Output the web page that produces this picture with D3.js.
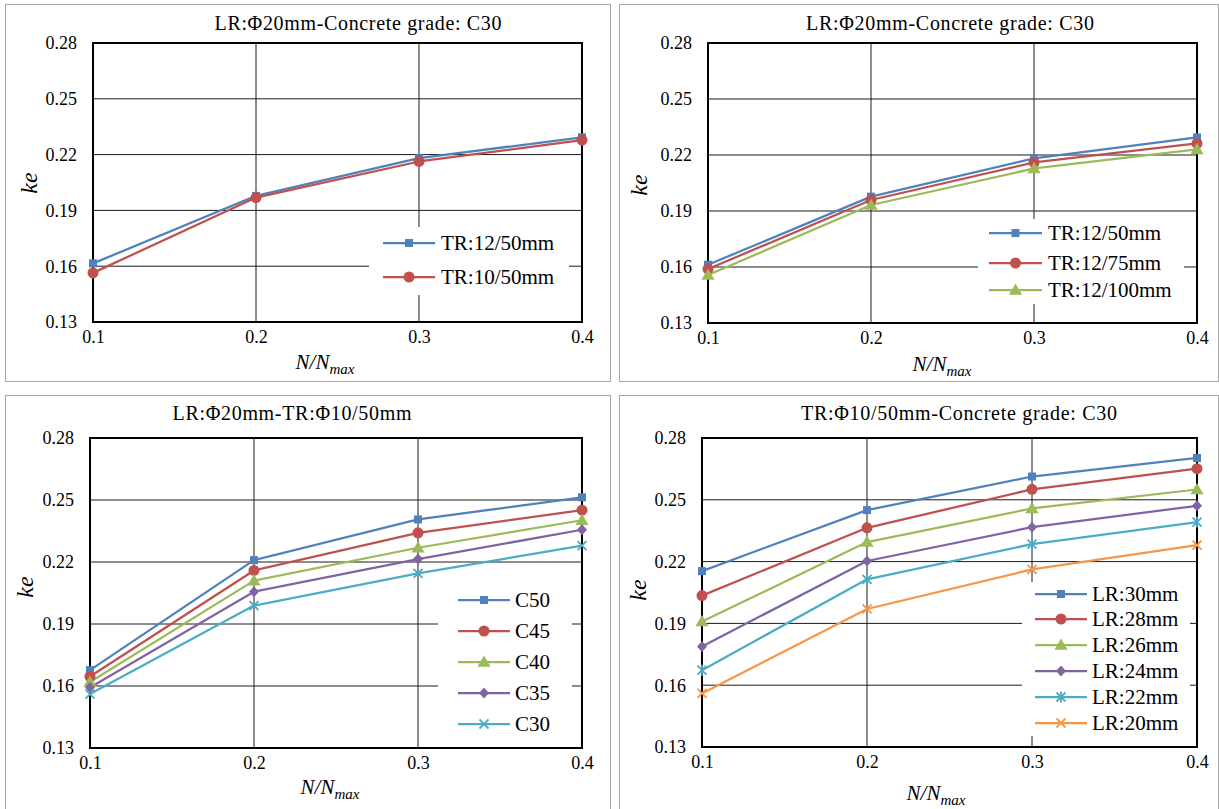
<!DOCTYPE html>
<html>
<head>
<meta charset="utf-8">
<script src="https://cdn.jsdelivr.net/npm/d3@7"></script>
</head>
<body style="margin:0">
<script>
// data
var xVals = [0.1, 0.2, 0.3, 0.4];
var xTickLabels = ["0.1", "0.2", "0.3", "0.4"];
var yTicks = [0.13, 0.16, 0.19, 0.22, 0.25, 0.28];

var p1Names = ["TR:12/50mm", "TR:10/50mm"];
var p1Values = [
  [0.1615, 0.1978, 0.2181, 0.2293],
  [0.1564, 0.1969, 0.2163, 0.2278]
];

var p2Names = ["TR:12/50mm", "TR:12/75mm", "TR:12/100mm"];
var p2Values = [
  [0.1612, 0.1977, 0.2182, 0.2294],
  [0.1589, 0.1959, 0.2160, 0.2262],
  [0.1557, 0.1932, 0.2128, 0.2230]
];

var p3Names = ["C50", "C45", "C40", "C35", "C30"];
var p3Values = [
  [0.1677, 0.2209, 0.2406, 0.2513],
  [0.1646, 0.2159, 0.2341, 0.2451],
  [0.1619, 0.2110, 0.2269, 0.2402],
  [0.1593, 0.2056, 0.2214, 0.2356],
  [0.1561, 0.1989, 0.2145, 0.2279]
];

var p4Names = ["LR:30mm", "LR:28mm", "LR:26mm", "LR:24mm", "LR:22mm", "LR:20mm"];
var p4Values = [
  [0.2154, 0.2450, 0.2613, 0.2703],
  [0.2035, 0.2364, 0.2551, 0.2651],
  [0.1909, 0.2295, 0.2458, 0.2550],
  [0.1788, 0.2203, 0.2367, 0.2471],
  [0.1673, 0.2114, 0.2285, 0.2392],
  [0.1560, 0.1970, 0.2162, 0.2280]
];

var colors = ["#4F81BD", "#C0504D", "#9BBB59", "#8064A2", "#4BACC6", "#F79646"];
var FONT = "Liberation Serif";
var K = 2; // text is set large and scaled down

// panel layout
var panels = [
  { title: "LR:Φ20mm-Concrete grade: C30", names: p1Names, values: p1Values,
    markers: ["square", "circle"],
    border: [5.5, 4.5, 610.5, 381.5], plot: [93, 43, 582, 322],
    titleX: 358, titleY: 30, titleW: 287, xLabelX: 325, xLabelY: 369, yLabelX: 29, yLabelY: 183,
    legBox: [369, 227, 569, 295], legRows: [243, 277], legLine: [383, 435], legText: 441 },
  { title: "LR:Φ20mm-Concrete grade: C30", names: p2Names, values: p2Values,
    markers: ["square", "circle", "triangle"],
    border: [619.5, 4.5, 1218.5, 381.5], plot: [708, 43, 1197, 323],
    titleX: 950, titleY: 30, titleW: 288, xLabelX: 942, xLabelY: 371, yLabelX: 639, yLabelY: 185,
    legBox: [978, 219, 1184, 304], legRows: [233, 263, 290], legLine: [989, 1042], legText: 1048 },
  { title: "LR:Φ20mm-TR:Φ10/50mm", names: p3Names, values: p3Values,
    markers: ["square", "circle", "triangle", "diamond", "x"],
    border: [5.5, 395.5, 610.5, 812], plot: [90, 438, 582, 748],
    titleX: 292, titleY: 420, titleW: 239, xLabelX: 330, xLabelY: 794, yLabelX: 25, yLabelY: 587,
    legBox: [438, 585, 572, 742], legRows: [600, 631, 662, 693, 724], legLine: [458, 510], legText: 515 },
  { title: "TR:Φ10/50mm-Concrete grade: C30", names: p4Names, values: p4Values,
    markers: ["square", "circle", "triangle", "diamond", "asterisk", "x"],
    border: [619.5, 395.5, 1218.5, 812], plot: [702, 438, 1197, 747],
    titleX: 959, titleY: 420, titleW: 316, xLabelX: 936, xLabelY: 800, yLabelX: 638, yLabelY: 590,
    legBox: [1022, 582, 1190, 736], legRows: [594, 619, 645, 671, 697, 723], legLine: [1035, 1087], legText: 1092 }
];

var svg = d3.select("body").append("svg")
  .attr("width", 1219)
  .attr("height", 809)
  .attr("font-family", FONT);

// text placed at (x, y) with size px, drawn at K times the size then scaled
function addText(parent, x, y, size, str, rot) {
  var t = "translate(" + x + "," + y + ")" + (rot ? " rotate(" + rot + ")" : "") + " scale(" + (1 / K) + ")";
  return parent.append("text")
    .attr("transform", t)
    .attr("font-family", FONT)
    .attr("font-size", size * K)
    .attr("fill", "#000")
    .text(str);
}

function drawMarker(g, type, x, y, color) {
  if (type === "square") {
    g.append("rect").attr("x", x - 4).attr("y", y - 4).attr("width", 8).attr("height", 8).attr("fill", color);
  } else if (type === "circle") {
    g.append("circle").attr("cx", x).attr("cy", y).attr("r", 5.5).attr("fill", color);
  } else if (type === "triangle") {
    g.append("path").attr("d", d3.symbol().type(d3.symbolTriangle).size(75)())
      .attr("transform", "translate(" + x + "," + (y + 1) + ")").attr("fill", color);
  } else if (type === "diamond") {
    g.append("path").attr("d", "M0,-5.5L5,0L0,5.5L-5,0Z")
      .attr("transform", "translate(" + x + "," + y + ")").attr("fill", color);
  } else if (type === "x" || type === "asterisk") {
    var s = 4.5;
    var p = "M" + (-s) + "," + (-s) + "L" + s + "," + s + "M" + (-s) + "," + s + "L" + s + "," + (-s);
    if (type === "asterisk") p += "M0," + (-s - 1) + "L0," + (s + 1);
    g.append("path").attr("d", p)
      .attr("transform", "translate(" + x + "," + y + ")")
      .attr("stroke", color).attr("stroke-width", 1.8).attr("fill", "none");
  }
}

panels.forEach(function (p) {
  var g = svg.append("g");

  // outer chart border
  g.append("rect")
    .attr("x", p.border[0]).attr("y", p.border[1])
    .attr("width", p.border[2] - p.border[0]).attr("height", p.border[3] - p.border[1])
    .attr("fill", "#fff").attr("stroke", "#a6a6a6").attr("stroke-width", 1);

  var x = d3.scaleLinear().domain([0.1, 0.4]).range([p.plot[0], p.plot[2]]);
  var y = d3.scaleLinear().domain([0.13, 0.28]).range([p.plot[3], p.plot[1]]);

  // gridlines
  g.append("g").selectAll("line.h")
    .data(yTicks.slice(1, -1))
    .enter().append("line")
      .attr("x1", p.plot[0]).attr("x2", p.plot[2])
      .attr("y1", function (d) { return y(d); }).attr("y2", function (d) { return y(d); })
      .attr("stroke", "#1a1a1a").attr("stroke-width", 1);
  g.append("g").selectAll("line.v")
    .data(xVals.slice(1, -1))
    .enter().append("line")
      .attr("y1", p.plot[1]).attr("y2", p.plot[3])
      .attr("x1", function (d) { return x(d); }).attr("x2", function (d) { return x(d); })
      .attr("stroke", "#1a1a1a").attr("stroke-width", 1);

  // legend background hides gridlines
  g.append("rect")
    .attr("x", p.legBox[0]).attr("y", p.legBox[1])
    .attr("width", p.legBox[2] - p.legBox[0]).attr("height", p.legBox[3] - p.legBox[1])
    .attr("fill", "#fff");

  // plot frame
  g.append("rect")
    .attr("x", p.plot[0]).attr("y", p.plot[1])
    .attr("width", p.plot[2] - p.plot[0]).attr("height", p.plot[3] - p.plot[1])
    .attr("fill", "none").attr("stroke", "#000").attr("stroke-width", 2);

  // axes labels
  var yAxis = g.append("g")
    .attr("transform", "translate(" + (p.plot[0] - 16) + ",0)")
    .call(d3.axisLeft(y).tickValues(yTicks).tickSize(0).tickFormat(d3.format(".2f")));
  yAxis.attr("font-family", FONT).attr("font-size", 18 * K);
  yAxis.select(".domain").remove();
  yAxis.selectAll("text").attr("x", 0).attr("dy", "0.33em").attr("fill", "#000")
    .attr("transform", "scale(" + (1 / K) + ")");

  var xAxis = g.append("g")
    .attr("transform", "translate(0," + (p.plot[3] + 8) + ")")
    .call(d3.axisBottom(x).tickValues(xVals).tickSize(0)
      .tickFormat(function (d, i) { return xTickLabels[i]; }));
  xAxis.attr("font-family", FONT).attr("font-size", 18 * K);
  xAxis.select(".domain").remove();
  xAxis.selectAll("text").attr("y", 0).attr("dy", "0.71em").attr("fill", "#000")
    .attr("transform", "scale(" + (1 / K) + ")");

  // title
  addText(g, p.titleX, p.titleY, 20, p.title)
    .attr("text-anchor", "middle")
    .attr("textLength", p.titleW * K).attr("lengthAdjust", "spacing");

  // axis titles
  var xl = addText(g, p.xLabelX, p.xLabelY, 21, null)
    .attr("text-anchor", "middle")
    .attr("font-style", "italic");
  xl.append("tspan").text("N/N");
  xl.append("tspan").attr("dy", 5 * K).attr("font-size", 15 * K).text("max");

  addText(g, p.yLabelX, p.yLabelY, 24, "ke", -90)
    .attr("text-anchor", "middle").attr("dy", "0.35em")
    .attr("font-style", "italic");

  // series
  var line = d3.line()
    .x(function (d, i) { return x(xVals[i]); })
    .y(function (d) { return y(d); });

  p.values.forEach(function (vals, si) {
    g.append("path")
      .datum(vals)
      .attr("d", line)
      .attr("fill", "none")
      .attr("stroke", colors[si])
      .attr("stroke-width", 2.25)
      .attr("stroke-linejoin", "round");
  });
  p.values.forEach(function (vals, si) {
    vals.forEach(function (v, i) {
      drawMarker(g, p.markers[si], x(xVals[i]), y(v), colors[si]);
    });
  });

  // legend
  p.names.forEach(function (name, si) {
    var ly = p.legRows[si];
    g.append("line")
      .attr("x1", p.legLine[0]).attr("x2", p.legLine[1])
      .attr("y1", ly).attr("y2", ly)
      .attr("stroke", colors[si]).attr("stroke-width", 2.25);
    drawMarker(g, p.markers[si], (p.legLine[0] + p.legLine[1]) / 2, ly, colors[si]);
    addText(g, p.legText, ly, 21, name).attr("dy", "0.33em");
  });
});
</script>
</body>
</html>
